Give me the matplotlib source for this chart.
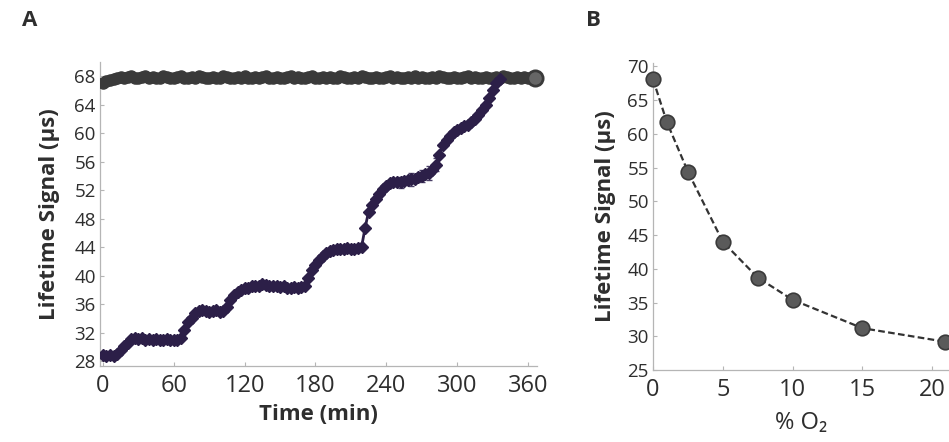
import matplotlib
matplotlib.use("Agg")
import matplotlib.pyplot as plt
import numpy as np

# ---------------- data ----------------
# Panel A: lifetime signal vs time
top_time = list(range(0, 367, 3))
top_vals = [67.1,67.3,67.5,67.6,67.8,67.9,67.7,67.9,68.0,67.8,67.7,67.9,68.0,67.8,67.9,67.7,67.8,68.0,67.9,67.7,
            67.8,67.9,68.0,67.8,67.7,67.9,67.8,68.0,67.9,67.7,67.8,67.9,67.7,67.8,68.0,67.9,67.8,67.7,67.9,67.8,
            68.0,67.8,67.7,67.9,67.8,67.9,68.0,67.7,67.8,67.9,67.8,67.7,67.9,68.0,67.8,67.9,67.7,67.8,67.9,68.0,
            67.8,67.7,67.9,67.8,67.9,67.7,67.8,68.0,67.9,67.8,67.7,67.9,67.8,68.0,67.9,67.7,67.8,67.9,67.8,67.7,
            67.9,68.0,67.8,67.9,67.7,67.8,67.9,67.8,68.0,67.7,67.9,67.8,67.7,67.9,67.8,68.0,67.9,67.7,67.8,67.9,
            67.8,67.7,67.9,68.0,67.8,67.9,67.7,67.8,67.9,67.8,67.7,67.9,67.8,68.0,67.9,67.8,67.7,67.9,67.8,67.9,
            67.8,67.9,67.8]

low_time = list(range(0, 337, 3))
low_vals = [28.8,28.7,28.8,28.7,29.0,29.6,30.1,30.6,31.1,31.2,
            31.1,31.2,31.0,31.1,31.0,31.1,30.9,31.0,31.1,30.9,
            30.9,31.0,31.2,32.3,33.5,34.1,34.7,35.0,35.1,35.0,
            34.9,35.0,35.1,34.9,35.0,35.6,36.6,37.3,37.7,38.0,
            38.2,38.3,38.5,38.6,38.6,38.8,38.7,38.6,38.5,38.6,
            38.4,38.5,38.3,38.2,38.4,38.3,38.4,38.5,39.6,40.8,
            41.5,42.2,42.8,43.2,43.4,43.6,43.8,43.7,43.8,43.9,
            43.7,43.8,43.9,44.0,46.7,49.0,49.9,50.7,51.4,52.1,
            52.6,53.0,53.1,53.2,53.1,53.3,53.4,53.5,53.6,53.8,
            54.0,54.2,54.4,54.8,55.6,57.0,58.3,59.0,59.6,60.1,
            60.4,60.7,61.0,61.2,61.6,62.0,62.6,63.2,64.0,65.0,
            66.0,67.0,67.6]

err_time = [252, 261, 270, 276, 282]
err_vals = [53.1, 53.5, 54.0, 54.4, 55.6]
err_size = [0.8, 0.9, 0.8, 1.0, 0.9]

a_xticks = [0, 60, 120, 180, 240, 300, 360]
a_yticks = [28, 32, 36, 40, 44, 48, 52, 56, 60, 64, 68]

# Panel B: lifetime signal vs % O2
o2_pct = [0, 1, 2.5, 5, 7.5, 10, 15, 20.9]
o2_sig = [68.1, 61.7, 54.4, 44.0, 38.7, 35.4, 31.2, 29.2]
b_xticks = [0, 5, 10, 15, 20]
b_yticks = [25, 30, 35, 40, 45, 50, 55, 60, 65, 70]

# ---------------- style ----------------
FAM = ['Open Sans', 'DejaVu Sans']
plt.rcParams['font.family'] = FAM
TXT = '#2e2e2e'
SPINE = '#b5b5b5'

fig = plt.figure(figsize=(9.49, 4.42), dpi=100)

axA = fig.add_axes([100/949, 1-366/442, 437/949, 304/442])
axB = fig.add_axes([653/949, 1-370/442, 296/949, 307/442])

def style(ax):
    for s in ['top', 'right']:
        ax.spines[s].set_visible(False)
    for s in ['left', 'bottom']:
        ax.spines[s].set_color(SPINE)
        ax.spines[s].set_linewidth(0.9)
    ax.tick_params(axis='both', direction='in', length=3, color=SPINE, width=0.8)
    ax.tick_params(axis='x', labelsize=17, labelcolor=TXT, pad=6)
    ax.tick_params(axis='y', labelsize=13.5, labelcolor=TXT, pad=3)

# Panel A
style(axA)
axA.plot(top_time, top_vals, color='#3a3a3a', marker='o', markersize=8,
         linestyle='-', linewidth=2, zorder=3)
axA.plot(top_time[-1:], top_vals[-1:], color='#3a3a3a', marker='o', markersize=11,
         markerfacecolor='#666666', markeredgewidth=2, linestyle='none', zorder=4, clip_on=False)
axA.errorbar(err_time, err_vals, yerr=err_size, fmt='none', ecolor='#4a3f66',
             elinewidth=0.8, capsize=2.5, zorder=2)
axA.plot(low_time, low_vals, color='#2c1f48', marker='D', markersize=6.5,
         linestyle='-', linewidth=2, zorder=3)
axA.set_xlim(-2.5, 367.6)
axA.set_ylim(27.3, 70)
axA.set_xticks(a_xticks)
axA.set_yticks(a_yticks)
axA.set_xlabel('Time (min)', fontsize=16, fontweight='bold', color=TXT, labelpad=4)
axA.set_ylabel('Lifetime Signal (µs)', fontsize=16, fontweight='bold', color=TXT, labelpad=10)

# Panel B
style(axB)
axB.plot(o2_pct, o2_sig, color='#333333', linestyle=(0, (3, 1.5)), linewidth=1.6,
         marker='o', markersize=10.5, markerfacecolor='#5a5a5a', markeredgecolor='#3a3a3a',
         markeredgewidth=1.2, clip_on=False, zorder=3)
axB.set_xlim(0, 21.2)
axB.set_ylim(25, 70.5)
axB.set_xticks(b_xticks)
axB.set_yticks(b_yticks)
axB.set_xlabel('% O₂', fontsize=17, color=TXT, labelpad=6)
axB.set_ylabel('Lifetime Signal (µs)', fontsize=16, fontweight='bold', color=TXT, labelpad=8)

fig.text(30/949, 1-20/442, 'A', fontsize=16, fontweight='bold', color=TXT, ha='center', va='center')
fig.text(593/949, 1-20/442, 'B', fontsize=16, fontweight='bold', color=TXT, ha='center', va='center')

fig.savefig('out.png', dpi=100)
